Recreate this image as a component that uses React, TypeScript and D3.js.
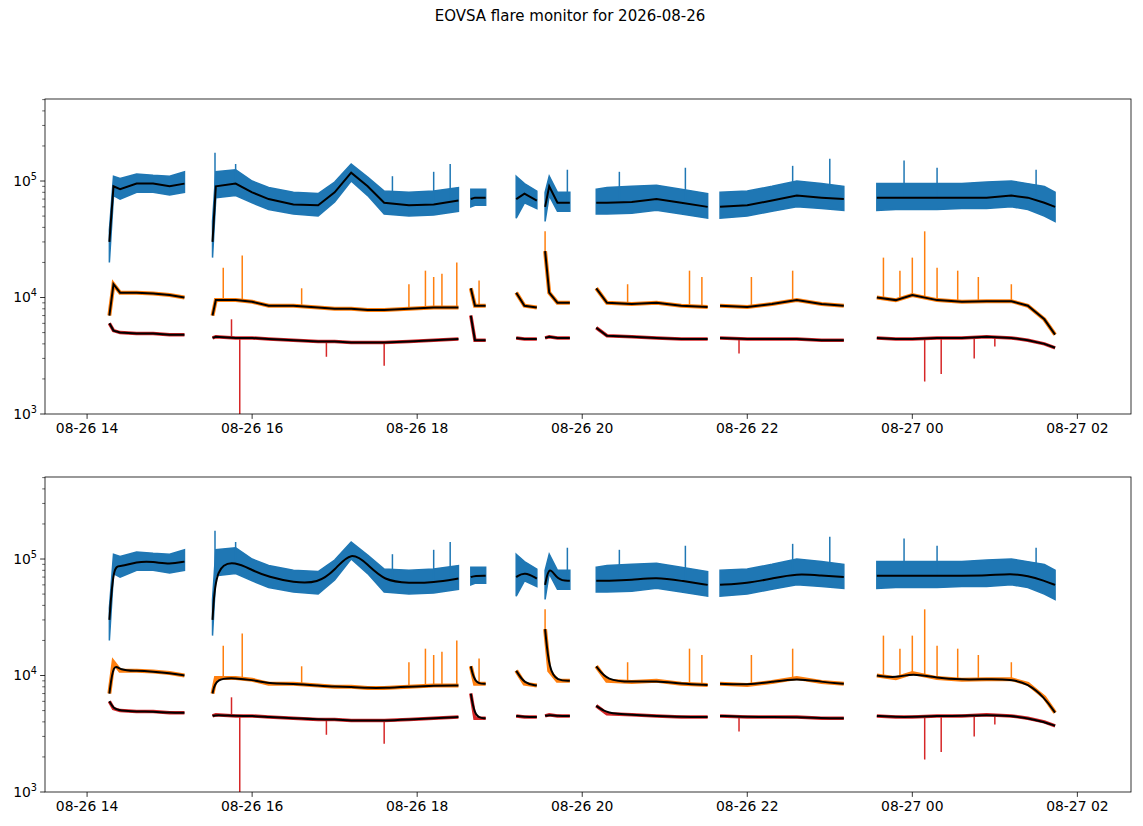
import React from "react";
import * as d3 from "d3";

// rows: [segment, hour, blueLo, blueMed, blueHi, orangeMed, redMed]
const rows: number[][] = [
  [1, 14.27, 20000, 30000, 38000, 7000, 6000],
  [1, 14.32, 75000, 90000, 110000, 13000, 5200],
  [1, 14.4, 70000, 85000, 105000, 11000, 5000],
  [1, 14.6, 80000, 95000, 115000, 11000, 4900],
  [1, 14.8, 80000, 95000, 112000, 10800, 4900],
  [1, 15.0, 76000, 90000, 110000, 10500, 4800],
  [1, 15.18, 80000, 95000, 120000, 10000, 4800],
  [2, 15.52, 22000, 30000, 45000, 7000, 4500],
  [2, 15.56, 72000, 90000, 120000, 9500, 4600],
  [2, 15.8, 75000, 95000, 125000, 9500, 4500],
  [2, 16.0, 65000, 80000, 100000, 9200, 4500],
  [2, 16.2, 57000, 70000, 88000, 8500, 4400],
  [2, 16.5, 52000, 63000, 80000, 8500, 4300],
  [2, 16.8, 50000, 62000, 78000, 8200, 4200],
  [2, 17.0, 66000, 80000, 98000, 8000, 4200],
  [2, 17.2, 100000, 118000, 140000, 8000, 4100],
  [2, 17.4, 75000, 90000, 108000, 7800, 4100],
  [2, 17.6, 52000, 65000, 82000, 7800, 4100],
  [2, 17.9, 50000, 62000, 80000, 8000, 4200],
  [2, 18.2, 51000, 63000, 82000, 8200, 4300],
  [2, 18.5, 55000, 68000, 88000, 8200, 4400],
  [3, 18.65, 60000, 70000, 85000, 12000, 7000],
  [3, 18.7, 62000, 72000, 85000, 8500, 4300],
  [3, 18.83, 62000, 72000, 85000, 8500, 4300],
  [4, 19.2, 48000, 70000, 110000, 11000, 4500],
  [4, 19.3, 65000, 78000, 95000, 8500, 4400],
  [4, 19.45, 58000, 68000, 82000, 8200, 4400],
  [5, 19.55, 45000, 60000, 80000, 25000, 4500],
  [5, 19.6, 75000, 90000, 110000, 11000, 4600],
  [5, 19.7, 55000, 65000, 80000, 9000, 4500],
  [5, 19.85, 55000, 65000, 80000, 9000, 4500],
  [6, 20.17, 52000, 65000, 85000, 12000, 5500],
  [6, 20.3, 52000, 65000, 88000, 9000, 4700],
  [6, 20.6, 53000, 66000, 90000, 8800, 4600],
  [6, 20.9, 56000, 70000, 92000, 9000, 4500],
  [6, 21.2, 52000, 65000, 85000, 8500, 4400],
  [6, 21.52, 48000, 60000, 78000, 8300, 4400],
  [7, 21.67, 48000, 60000, 80000, 8500, 4500],
  [7, 22.0, 50000, 62000, 82000, 8300, 4400],
  [7, 22.3, 55000, 68000, 90000, 8800, 4400],
  [7, 22.6, 60000, 75000, 100000, 9500, 4400],
  [7, 22.9, 58000, 72000, 95000, 8800, 4300],
  [7, 23.17, 56000, 70000, 90000, 8500, 4300],
  [8, 23.57, 56000, 72000, 95000, 10000, 4500],
  [8, 23.8, 57000, 72000, 95000, 9500, 4400],
  [8, 24.0, 57000, 72000, 95000, 10500, 4400],
  [8, 24.3, 57000, 72000, 95000, 9500, 4500],
  [8, 24.6, 58000, 72000, 95000, 9200, 4500],
  [8, 24.9, 58000, 72000, 98000, 9300, 4600],
  [8, 25.2, 60000, 75000, 100000, 9300, 4500],
  [8, 25.4, 57000, 72000, 95000, 8500, 4300],
  [8, 25.6, 50000, 65000, 90000, 6500, 4000],
  [8, 25.73, 45000, 60000, 80000, 4800, 3700],
];

// spikes: [hour, peak value]
const blueSpikes: number[][] = [
  [15.55, 175000], [15.8, 140000], [17.7, 110000], [18.2, 120000], [18.4, 140000],
  [20.45, 120000], [21.25, 130000], [22.55, 135000], [23.0, 155000], [23.9, 150000],
  [24.3, 130000], [25.5, 125000], [19.82, 125000],
];
const orangeSpikes: number[][] = [
  [15.65, 18000], [15.88, 23000], [16.6, 12000], [17.9, 13000], [18.1, 17000], [18.2, 15000],
  [18.3, 16000], [18.48, 20000], [18.75, 14000], [19.55, 37000], [20.55, 13000], [21.3, 17000],
  [21.45, 15000], [22.05, 15000], [22.55, 17000], [23.65, 22000], [23.85, 17000], [24.0, 22000],
  [24.15, 37000], [24.3, 18000], [24.55, 17000], [24.8, 15000], [25.2, 13000],
];
const redSpikes: number[][] = [
  [15.75, 6500], [15.85, 900], [16.9, 3100], [17.6, 2600], [21.9, 3300],
  [24.15, 1900], [24.35, 2200], [24.75, 3000], [25.0, 3800],
];
const xTicks = [14, 16, 18, 20, 22, 24, 26];
const xTickLabels = ["08-26 14", "08-26 16", "08-26 18", "08-26 20", "08-26 22", "08-27 00", "08-27 02"];

const W = 1143, H = 826;
const left = 45, right = 1131;
const panels = [{ top: 99, bottom: 414 }, { top: 477, bottom: 792 }];
const font = "DejaVu Sans, sans-serif";

const segments = Array.from(d3.group(rows, (r) => r[0]).values());

function Panel({ top, bottom, idx }: { top: number; bottom: number; idx: number }) {
  const x = d3.scaleLinear().domain([13.49, 26.65]).range([left, right]);
  const y = d3.scaleLog().domain([1000, 506000]).range([bottom, top]);
  const curve = idx === 0 ? d3.curveLinear : d3.curveBasis;
  const area = d3.area<number[]>().x((r) => x(r[1])).y0((r) => y(r[2])).y1((r) => y(r[4]));
  const line = (col: number, c = d3.curveLinear) =>
    d3.line<number[]>().x((r) => x(r[1])).y((r) => y(r[col])).curve(c);
  const medianAt = (t: number, col: number) => {
    const seg = segments.find((s) => t >= s[0][1] && t <= s[s.length - 1][1]) || segments[0];
    const i = seg.findIndex((r) => r[1] >= t);
    if (i <= 0) return seg[Math.max(i, 0)][col];
    const a = seg[i - 1], b = seg[i];
    return a[col] + ((b[col] - a[col]) * (t - a[1])) / (b[1] - a[1]);
  };
  const minor: number[] = [];
  for (const d of [1000, 10000, 100000]) for (let k = 2; k <= 9; k++) if (d * k <= 506000) minor.push(d * k);
  const clip = `clip${idx}`;
  const inSeg = (s: number[][]) => (p: number[]) => p[0] >= s[0][1] && p[0] <= s[s.length - 1][1];
  return (
    <g>
      <defs>
        <clipPath id={clip}>
          <rect x={left} y={top} width={right - left} height={bottom - top} />
        </clipPath>
      </defs>
      <g clipPath={`url(#${clip})`}>
        {segments.map((s, i) => (
          <g key={i}>
            <path d={area(s)!} fill="#1f77b4" stroke="#1f77b4" strokeWidth={1.5} />
            {blueSpikes.filter(inSeg(s)).map((p, j) => (
              <line key={j} x1={x(p[0])} x2={x(p[0])} y1={y(medianAt(p[0], 3))} y2={y(p[1])} stroke="#1f77b4" strokeWidth={1.5} />
            ))}
            <path d={line(5)(s)!} fill="none" stroke="#ff7f0e" strokeWidth={4} />
            {orangeSpikes.filter(inSeg(s)).map((p, j) => (
              <line key={j} x1={x(p[0])} x2={x(p[0])} y1={y(medianAt(p[0], 5))} y2={y(p[1])} stroke="#ff7f0e" strokeWidth={1.5} />
            ))}
            <path d={line(6)(s)!} fill="none" stroke="#d62728" strokeWidth={3.5} />
            {redSpikes.filter(inSeg(s)).map((p, j) => (
              <line key={j} x1={x(p[0])} x2={x(p[0])} y1={y(medianAt(p[0], 6))} y2={y(p[1])} stroke="#d62728" strokeWidth={1.5} />
            ))}
            {[3, 5, 6].map((c) => (
              <path key={c} d={line(c, curve)(s)!} fill="none" stroke="#000" strokeWidth={2} />
            ))}
          </g>
        ))}
      </g>
      <rect x={left} y={top} width={right - left} height={bottom - top} fill="none" stroke="#000" strokeWidth={0.8} />
      {xTicks.map((t, i) => (
        <g key={t} transform={`translate(${x(t)},${bottom})`}>
          <line y2={4.9} stroke="#000" strokeWidth={0.8} />
          <text y={19} textAnchor="middle" fontSize={13.9} fontFamily={font}>{xTickLabels[i]}</text>
        </g>
      ))}
      {[1000, 10000, 100000].map((v, i) => (
        <g key={v} transform={`translate(${left},${y(v)})`}>
          <line x2={-4.9} stroke="#000" strokeWidth={0.8} />
          <text x={-8} dy="0.35em" textAnchor="end" fontSize={13.9} fontFamily={font}>
            10<tspan dy={-6} fontSize={9.7}>{i + 3}</tspan>
          </text>
        </g>
      ))}
      {minor.map((v) => (
        <line key={v} x1={left} x2={left - 2.8} y1={y(v)} y2={y(v)} stroke="#000" strokeWidth={0.6} />
      ))}
    </g>
  );
}

export default function App() {
  return (
    <svg width={W} height={H} style={{ display: "block", position: "absolute", left: 0, top: 0 }}>
      <rect width={W} height={H} fill="#fff" />
      <text x={570} y={21} textAnchor="middle" fontSize={15} fontFamily={font}>
        EOVSA flare monitor for 2026-08-26
      </text>
      {panels.map((p, i) => (
        <Panel key={i} top={p.top} bottom={p.bottom} idx={i} />
      ))}
    </svg>
  );
}
